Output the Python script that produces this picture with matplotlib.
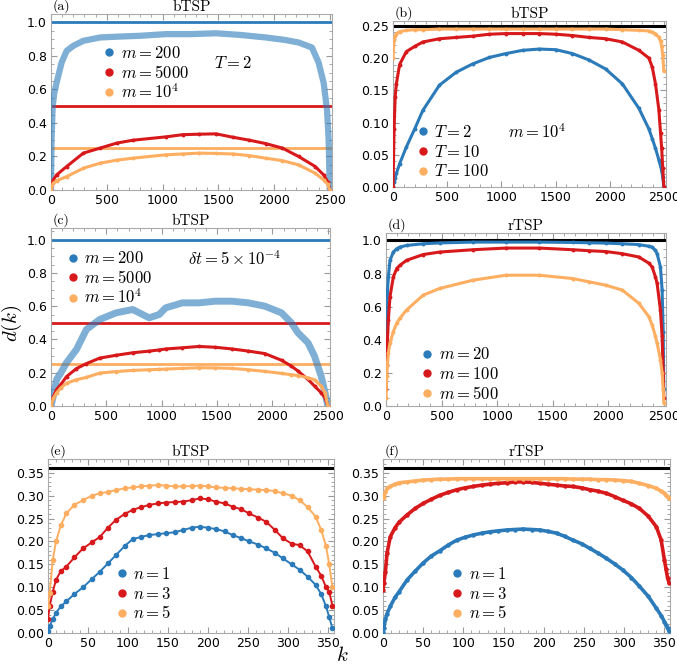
import matplotlib
matplotlib.use("Agg")
import matplotlib.pyplot as plt
from matplotlib.lines import Line2D
from matplotlib.ticker import AutoMinorLocator

plt.rcParams["mathtext.fontset"] = "cm"
plt.rcParams["font.family"] = "DejaVu Sans"

BLUE = "#2b7bba"
RED = "#d7191c"
ORANGE = "#fdae61"

# ---- panel (a): bTSP, T = 2 ----
ka_cloud = [0, 5, 15, 30, 50, 95, 140, 200, 290, 440, 600, 800, 1030, 1250, 1480,
            1700, 1925, 2100, 2220, 2340, 2400, 2445, 2475, 2490, 2500]
a_m200 = [0.0, 0.3, 0.5, 0.58, 0.64, 0.76, 0.83, 0.86, 0.89, 0.91, 0.915, 0.92, 0.93,
          0.93, 0.935, 0.925, 0.91, 0.895, 0.88, 0.85, 0.76, 0.64, 0.48, 0.3, 0.0]
ka = [0, 20, 50, 140, 290, 440, 590, 735, 1030, 1180, 1330, 1480, 1630, 1780, 1925,
      2075, 2220, 2370, 2445, 2480, 2500]
a_m5000 = [0.0, 0.06, 0.09, 0.14, 0.22, 0.25, 0.28, 0.297, 0.317, 0.33, 0.333, 0.335,
           0.315, 0.297, 0.277, 0.25, 0.20, 0.14, 0.09, 0.05, 0.0]
a_m1e4 = [0.0, 0.04, 0.055, 0.08, 0.13, 0.16, 0.178, 0.19, 0.21, 0.215, 0.22, 0.218,
          0.215, 0.205, 0.19, 0.175, 0.15, 0.10, 0.06, 0.035, 0.0]
a_levels = [1.0, 0.5, 0.25]

# ---- panel (b): bTSP, m = 1e4 ----
kb = [0, 10, 20, 31, 61, 123, 200, 276, 429, 583, 736, 890, 1043, 1196, 1350, 1503,
      1656, 1810, 1963, 2117, 2270, 2362, 2393, 2423, 2454, 2470, 2480, 2490, 2500]
b_T2 = [0.0, 0.008, 0.014, 0.021, 0.036, 0.062, 0.09, 0.119, 0.158, 0.178, 0.191, 0.201,
        0.207, 0.212, 0.214, 0.213, 0.207, 0.197, 0.183, 0.16, 0.122, 0.09, 0.075, 0.06,
        0.042, 0.032, 0.025, 0.015, 0.0]
b_T10 = [0.0, 0.09, 0.14, 0.16, 0.19, 0.21, 0.218, 0.225, 0.23, 0.232, 0.234, 0.237,
         0.238, 0.238, 0.238, 0.237, 0.235, 0.232, 0.23, 0.225, 0.212, 0.20, 0.186, 0.16,
         0.12, 0.083, 0.06, 0.03, 0.0]
b_T100 = [0.2, 0.228, 0.234, 0.238, 0.241, 0.243, 0.244, 0.244, 0.245, 0.245, 0.245,
          0.245, 0.245, 0.245, 0.245, 0.245, 0.245, 0.245, 0.245, 0.244, 0.243, 0.242,
          0.24, 0.238, 0.232, 0.226, 0.218, 0.205, 0.18]
b_level = 0.25

# ---- panel (c): bTSP, dt = 5e-4 ----
kc = [0, 21, 51, 90, 140, 230, 320, 440, 588, 738, 887, 977, 1036, 1186, 1335, 1485,
      1634, 1783, 1932, 2082, 2171, 2231, 2321, 2380, 2440, 2475, 2500]
c_m200 = [0.0, 0.06, 0.16, 0.2, 0.26, 0.34, 0.46, 0.52, 0.56, 0.58, 0.53, 0.55, 0.59,
          0.62, 0.62, 0.63, 0.63, 0.62, 0.60, 0.56, 0.50, 0.44, 0.38, 0.30, 0.18, 0.08, 0.0]
c_m5000 = [0.0, 0.056, 0.1, 0.13, 0.177, 0.225, 0.255, 0.288, 0.305, 0.32, 0.33, 0.337,
           0.343, 0.35, 0.358, 0.353, 0.343, 0.33, 0.315, 0.275, 0.24, 0.21, 0.16, 0.12,
           0.08, 0.05, 0.0]
c_m1e4 = [0.0, 0.046, 0.08, 0.11, 0.137, 0.158, 0.172, 0.198, 0.207, 0.214, 0.218, 0.22,
          0.222, 0.226, 0.23, 0.229, 0.226, 0.218, 0.208, 0.196, 0.188, 0.183, 0.17, 0.157,
          0.12, 0.08, 0.0]
c_levels = [1.0, 0.5, 0.25]

# ---- panel (d): rTSP ----
kd = [0, 6, 12, 21, 36, 66, 96, 125, 185, 335, 484, 783, 1081, 1380, 1679, 1828, 1977,
      2127, 2276, 2365, 2395, 2425, 2440, 2470, 2485, 2495, 2500]
d_m20 = [0.2, 0.5, 0.68, 0.78, 0.88, 0.93, 0.95, 0.96, 0.97, 0.98, 0.985, 0.99, 0.99,
         0.99, 0.988, 0.986, 0.984, 0.98, 0.975, 0.965, 0.96, 0.94, 0.92, 0.84, 0.7,
         0.45, 0.1]
d_m100 = [0.1, 0.25, 0.38, 0.52, 0.66, 0.78, 0.83, 0.85, 0.88, 0.915, 0.93, 0.944, 0.954,
          0.954, 0.944, 0.938, 0.933, 0.92, 0.90, 0.863, 0.84, 0.78, 0.74, 0.58, 0.42,
          0.2, 0.05]
d_m500 = [0.05, 0.18, 0.25, 0.32, 0.38, 0.45, 0.5, 0.53, 0.58, 0.67, 0.71, 0.76, 0.79,
          0.79, 0.77, 0.75, 0.73, 0.70, 0.62, 0.54, 0.49, 0.42, 0.38, 0.28, 0.2, 0.1, 0.02]
d_level = 1.0

# ---- panel (e): bTSP, small system ----
ke = [0, 2, 6, 10, 16, 23, 33, 44, 55, 65, 75, 85, 96, 106, 117, 127, 138, 148, 159,
      169, 180, 190, 200, 210, 221, 231, 242, 252, 263, 273, 284, 294, 305, 315, 325,
      335, 342, 348, 352, 356]
e_n1 = [0.005, 0.015, 0.03, 0.044, 0.058, 0.069, 0.085, 0.10, 0.118, 0.134, 0.152, 0.17,
        0.19, 0.205, 0.21, 0.214, 0.216, 0.218, 0.22, 0.225, 0.23, 0.232, 0.23, 0.227,
        0.222, 0.214, 0.207, 0.2, 0.193, 0.185, 0.175, 0.163, 0.15, 0.138, 0.123, 0.105,
        0.085, 0.058, 0.035, 0.01]
e_n3 = [0.03, 0.058, 0.09, 0.116, 0.135, 0.145, 0.165, 0.185, 0.198, 0.21, 0.23, 0.247,
        0.26, 0.269, 0.275, 0.28, 0.283, 0.285, 0.286, 0.287, 0.29, 0.294, 0.292, 0.287,
        0.283, 0.276, 0.27, 0.261, 0.252, 0.243, 0.225, 0.207, 0.195, 0.192, 0.178,
        0.145, 0.125, 0.1, 0.09, 0.06]
e_n5 = [0.06, 0.087, 0.16, 0.2, 0.235, 0.261, 0.28, 0.29, 0.3, 0.305, 0.308, 0.312,
        0.316, 0.318, 0.32, 0.322, 0.323, 0.322, 0.32, 0.32, 0.321, 0.322, 0.32, 0.318,
        0.317, 0.316, 0.315, 0.314, 0.313, 0.312, 0.31, 0.305, 0.3, 0.29, 0.275, 0.254,
        0.225, 0.19, 0.15, 0.1]
e_level = 0.36

# ---- panel (f): rTSP, small system ----
kf = [0, 1, 3, 5, 9, 15, 20, 30, 40, 50, 60, 71, 81, 92, 102, 112, 123, 133, 143, 154,
      164, 174, 185, 195, 205, 216, 226, 236, 247, 257, 267, 278, 288, 298, 309, 319,
      330, 340, 346, 350, 352, 354, 356]
f_n1 = [0.003, 0.01, 0.03, 0.042, 0.058, 0.078, 0.09, 0.116, 0.135, 0.153, 0.168, 0.18,
        0.192, 0.203, 0.209, 0.214, 0.218, 0.221, 0.223, 0.225, 0.226, 0.227, 0.226,
        0.225, 0.222, 0.218, 0.211, 0.203, 0.195, 0.185, 0.175, 0.163, 0.151, 0.138,
        0.121, 0.102, 0.08, 0.054, 0.038, 0.025, 0.018, 0.01, 0.004]
f_n3 = [0.095, 0.109, 0.134, 0.174, 0.21, 0.23, 0.242, 0.258, 0.272, 0.283, 0.292, 0.301,
        0.307, 0.313, 0.317, 0.32, 0.323, 0.325, 0.327, 0.328, 0.33, 0.33, 0.329, 0.327,
        0.325, 0.323, 0.321, 0.32, 0.317, 0.313, 0.31, 0.305, 0.298, 0.29, 0.282, 0.272,
        0.255, 0.232, 0.203, 0.16, 0.14, 0.12, 0.109]
f_n5 = [0.295, 0.298, 0.307, 0.316, 0.32, 0.325, 0.328, 0.33, 0.332, 0.334, 0.335, 0.336,
        0.336, 0.337, 0.337, 0.337, 0.337, 0.337, 0.337, 0.337, 0.337, 0.337, 0.337,
        0.337, 0.337, 0.337, 0.337, 0.336, 0.336, 0.336, 0.335, 0.335, 0.334, 0.333,
        0.331, 0.327, 0.322, 0.316, 0.31, 0.305, 0.301, 0.297, 0.294]
f_level = 0.36

W, H = 677, 668
fig = plt.figure(figsize=(W / 100, H / 100), dpi=100)


def make_axes(x0, x1, y0, y1):
    return fig.add_axes([x0 / W, 1 - y1 / H, (x1 - x0) / W, (y1 - y0) / H])


def style(ax, label, title, xlim, ylim, yticks, xticks, ymin_n=4):
    ax.set_xlim(*xlim)
    ax.set_ylim(*ylim)
    ax.set_yticks(yticks)
    ax.set_xticks(xticks)
    ax.xaxis.set_minor_locator(AutoMinorLocator(5))
    ax.yaxis.set_minor_locator(AutoMinorLocator(ymin_n))
    ax.tick_params(which="both", direction="in", top=True, right=True, color="#999999",
                   labelsize=9, pad=3)
    ax.tick_params(which="major", length=4, width=0.8)
    ax.tick_params(which="minor", length=2, width=0.6)
    for s in ax.spines.values():
        s.set_color("#aaaaaa")
        s.set_linewidth(0.8)
    ax.set_title(title, fontname="cmr10", fontsize=11, pad=2)
    ax.text(0.005, 1.004, label, transform=ax.transAxes, fontname="cmr10", fontsize=10,
            ha="left", va="bottom")


def series(ax, k, v, color, lw=2.2, ms=1.8, alpha=1.0, marker="o"):
    ax.plot(k, v, "-", color=color, lw=lw, marker=marker, ms=ms, alpha=alpha,
            solid_capstyle="round", zorder=3)


def legend(ax, labels, colors, anchor):
    handles = [Line2D([], [], ls="none", marker="o", ms=5, color=c) for c in colors]
    ax.legend(handles, labels, loc="upper left", bbox_to_anchor=anchor, frameon=False,
              fontsize=12, handlelength=0.6, handletextpad=0.4, labelspacing=0.1,
              borderpad=0, borderaxespad=0)


labels_m = [r"$m=200$", r"$m=5000$", r"$m=10^4$"]
cols = [BLUE, RED, ORANGE]
xt_big = [0, 500, 1000, 1500, 2000, 2500]
xt_small = [0, 50, 100, 150, 200, 250, 300, 350]
yt_big = [0, 0.2, 0.4, 0.6, 0.8, 1.0]
ytl_big = ["0.0", "0.2", "0.4", "0.6", "0.8", "1.0"]

# (a)
ax = make_axes(51, 332, 14, 190)
style(ax, "(a)", "bTSP", (0, 2520), (0, 1.05), yt_big, xt_big)
for lev, c in zip(a_levels, cols):
    ax.axhline(lev, color=c, lw=2, zorder=2)
series(ax, ka_cloud, a_m200, BLUE, lw=4.5, alpha=0.6, marker=None)
series(ax, ka, a_m5000, RED)
series(ax, ka, a_m1e4, ORANGE)
legend(ax, labels_m, cols, (0.19, 0.83))
ax.text(0.58, 0.72, r"$T=2$", transform=ax.transAxes, fontsize=12, va="center")
ax.set_yticklabels(ytl_big)

# (b)
ax = make_axes(393, 666, 21, 187)
style(ax, "(b)", "bTSP", (0, 2520), (0, 0.2575), [0, 0.05, 0.1, 0.15, 0.2, 0.25], xt_big, 5)
ax.axhline(b_level, color="black", lw=2.2, zorder=2)
series(ax, kb, b_T2, BLUE)
series(ax, kb, b_T10, RED)
series(ax, kb, b_T100, ORANGE)
legend(ax, [r"$T=2$", r"$T=10$", r"$T=100$"], cols, (0.09, 0.385))
ax.text(0.42, 0.325, r"$m=10^4$", transform=ax.transAxes, fontsize=12, va="center")
ax.set_yticklabels(["0.00", "0.05", "0.10", "0.15", "0.20", "0.25"])

# (c)
ax = make_axes(51, 330, 228, 406)
style(ax, "(c)", "bTSP", (0, 2520), (0, 1.07), yt_big, xt_big)
for lev, c in zip(c_levels, cols):
    ax.axhline(lev, color=c, lw=2, zorder=2)
series(ax, kc, c_m200, BLUE, lw=5, alpha=0.6, marker=None)
series(ax, kc, c_m5000, RED)
series(ax, kc, c_m1e4, ORANGE)
legend(ax, labels_m, cols, (0.06, 0.88))
ax.text(0.49, 0.82, r"$\delta t=5\times10^{-4}$", transform=ax.transAxes, fontsize=12,
        va="center")
ax.set_yticklabels(ytl_big)

# (d)
ax = make_axes(386, 666, 233, 406)
style(ax, "(d)", "rTSP", (0, 2520), (0, 1.045), yt_big, xt_big)
ax.axhline(d_level, color="black", lw=2.2, zorder=2)
series(ax, kd, d_m20, BLUE)
series(ax, kd, d_m100, RED)
series(ax, kd, d_m500, ORANGE)
legend(ax, [r"$m=20$", r"$m=100$", r"$m=500$"], cols, (0.13, 0.35))
ax.set_yticklabels(ytl_big)

labels_n = [r"$n=1$", r"$n=3$", r"$n=5$"]
yt_small = [0, 0.05, 0.1, 0.15, 0.2, 0.25, 0.3, 0.35]
ytl_small = ["0.00", "0.05", "0.10", "0.15", "0.20", "0.25", "0.30", "0.35"]

# (e)
ax = make_axes(48, 334, 459, 633)
style(ax, "(e)", "bTSP", (0, 358), (0, 0.38), yt_small, xt_small, 5)
ax.axhline(e_level, color="black", lw=2.2, zorder=2)
series(ax, ke, e_n1, BLUE, lw=1.4, ms=3)
series(ax, ke, e_n3, RED, lw=1.4, ms=3)
series(ax, ke, e_n5, ORANGE, lw=1.4, ms=3)
legend(ax, labels_n, cols, (0.24, 0.39))
ax.set_yticklabels(ytl_small)

# (f)
ax = make_axes(383, 670, 459, 633)
style(ax, "(f)", "rTSP", (0, 357), (0, 0.38), yt_small, xt_small, 5)
ax.axhline(f_level, color="black", lw=2.2, zorder=2)
series(ax, kf, f_n1, BLUE, lw=2.6, ms=2.2)
series(ax, kf, f_n3, RED, lw=2.6, ms=2.2)
series(ax, kf, f_n5, ORANGE, lw=2.6, ms=2.2)
legend(ax, labels_n, cols, (0.24, 0.39))
ax.set_yticklabels(ytl_small)

fig.text(12 / W, 1 - 323 / H, r"$d(k)$", rotation=90, fontsize=15, ha="center",
         va="center")
fig.text(342 / W, 1 - 655 / H, r"$k$", fontsize=15, ha="center", va="center")

fig.savefig("out.png", dpi=100)
